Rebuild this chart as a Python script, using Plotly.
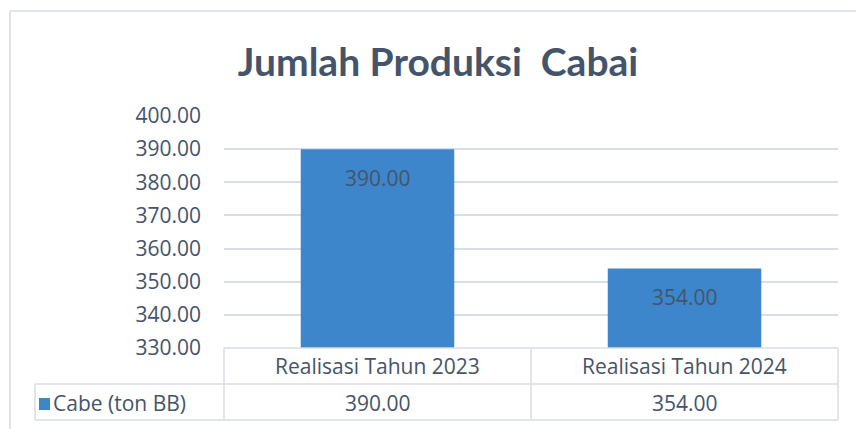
import plotly.graph_objects as go

categories = ["Realisasi Tahun 2023", "Realisasi Tahun 2024"]
values = [390.00, 354.00]
series_name = "Cabe (ton BB)"
title_text = "Jumlah Produksi  Cabai"
y_ticks = [330, 340, 350, 360, 370, 380, 390, 400]

W, H = 856, 429
L, R, T, B = 224, 838, 116, 348  # plot area pixels
pw, ph = R - L, B - T

def px(x):
    return (x - L) / pw

def py(y):
    return (B - y) / ph

TEXT = "#44546a"
LINE = "#d9dde6"
BAR = "#3d86cb"
FONT = "Open Sans"

fig = go.Figure()
fig.add_trace(go.Bar(
    x=categories, y=values, name=series_name,
    marker=dict(color=BAR, line=dict(width=0)),
    width=0.5, showlegend=False, hoverinfo="x+y",
))

annotations = []
# data labels inside bars
for c, v in zip(categories, values):
    annotations.append(dict(x=c, y=v, xref="x", yref="y", text=f"{v:.2f}",
                            showarrow=False, yshift=-29,
                            font=dict(family=FONT, size=21, color="#46546a")))
# data table: header row (categories) and value row
for c, v in zip(categories, values):
    annotations.append(dict(x=c, y=py(366), xref="x", yref="paper", text=c,
                            showarrow=False, yanchor="middle",
                            font=dict(family=FONT, size=21, color=TEXT)))
    annotations.append(dict(x=c, y=py(403), xref="x", yref="paper", text=f"{v:.2f}",
                            showarrow=False, yanchor="middle",
                            font=dict(family=FONT, size=21, color=TEXT)))
annotations.append(dict(x=px(51), y=py(403), xref="paper", yref="paper",
                        text=series_name, showarrow=False, xanchor="left",
                        yanchor="middle",
                        font=dict(family=FONT, size=21, color=TEXT)))

shapes = []
def hline(y, x0, x1, color=LINE, w=1.5):
    shapes.append(dict(type="line", xref="paper", yref="paper",
                       x0=px(x0), x1=px(x1), y0=py(y), y1=py(y),
                       line=dict(color=color, width=w)))
def vline(x, y0, y1, color=LINE, w=1.5):
    shapes.append(dict(type="line", xref="paper", yref="paper",
                       x0=px(x), x1=px(x), y0=py(y0), y1=py(y1),
                       line=dict(color=color, width=w)))

# table lines
hline(348, 224, 838)
hline(384, 35, 838)
hline(420, 35, 838)
vline(35, 384, 420)
vline(224, 348, 420)
vline(531, 348, 420)
vline(838, 348, 420)
# outer chart border
hline(11, 10, 860, color="#dfe3ea", w=2)
vline(10, 11, 440, color="#dfe3ea", w=2)
# legend key
shapes.append(dict(type="rect", xref="paper", yref="paper",
                   x0=px(39), x1=px(50), y0=py(410), y1=py(398),
                   fillcolor=BAR, line=dict(width=0)))

fig.update_layout(
    width=W, height=H,
    margin=dict(l=L, r=W - R, t=T, b=H - B, pad=0),
    paper_bgcolor="white", plot_bgcolor="white",
    title=dict(text=f"<b>{title_text}</b>", x=438 / W, xanchor="center",
               y=1 - 62 / H, yanchor="middle",
               font=dict(family="Lato", size=39, color=TEXT)),
    xaxis=dict(showticklabels=False, showgrid=False, zeroline=False,
               showline=False, ticks=""),
    yaxis=dict(range=[330, 400], tickvals=y_ticks,
               ticktext=[f"{t:.2f}" for t in y_ticks],
               showgrid=True, gridcolor=LINE, gridwidth=1.5,
               zeroline=False, showline=False, ticks="",
               ticklabelstandoff=22,
               tickfont=dict(family=FONT, size=21, color=TEXT)),
    annotations=annotations, shapes=shapes,
    bargap=0.5,
)

fig.write_html("out.html", config={"displayModeBar": False},
               post_script="document.body.style.margin='0';document.body.style.overflow='hidden';")
